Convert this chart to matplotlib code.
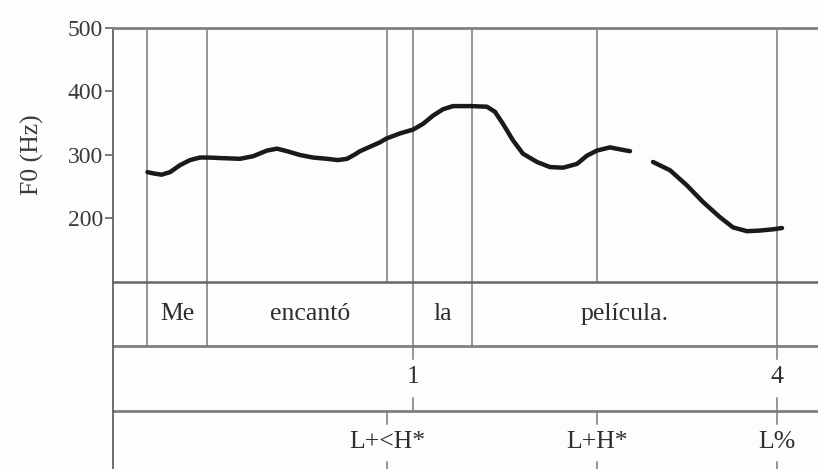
import numpy as np
import matplotlib
matplotlib.use("Agg")
import matplotlib.pyplot as plt

plt.rcParams['font.family'] = ['Liberation Serif', 'DejaVu Serif']

# F0 contour (s, Hz); NaN marks the unvoiced gap
f0_time = [0.069, 0.081, 0.097, 0.114, 0.134, 0.154, 0.174, 0.190, 0.220, 0.254,
           0.280, 0.308, 0.328, 0.348, 0.374, 0.400, 0.428, 0.450, 0.468, 0.484,
           0.494, 0.514, 0.534, 0.547, 0.574, 0.600, 0.620, 0.640, 0.660, 0.680,
           0.718, 0.748, 0.764, 0.780, 0.800, 0.820, 0.848, 0.874, 0.900, 0.928,
           0.948, 0.968, 0.994, 1.020, 1.034,
           1.057,
           1.080, 1.114, 1.148, 1.180, 1.214, 1.240, 1.268, 1.294, 1.320, 1.338]
f0_hz = [273, 271, 269, 273, 284, 292, 296, 296, 295, 294,
         298, 307, 310, 306, 300, 296, 294, 292, 294, 301,
         306, 313, 320, 326, 334, 340, 349, 362, 372, 377,
         377, 376, 368, 349, 323, 302, 289, 281, 280, 286,
         299, 307, 312, 308, 306,
         np.nan,
         289, 276, 252, 226, 202, 186, 180, 181, 183, 185]

# word tier
word_bounds = [0.068, 0.188, 0.600, 0.718, 1.328]
words = ['Me', 'encantó', 'la', 'película.']

# break-index tier
break_times = [0.600, 1.328]
break_labels = ['1', '4']

# tone tier
tone_times = [0.548, 0.968, 1.328]
tone_labels = ['L+<H*', 'L+H*', 'L%']

yticks = [200, 300, 400, 500]

W, H = 818, 469
fig = plt.figure(figsize=(W / 100, H / 100), dpi=100)
fig.patch.set_facecolor('#fdfdfd')

px = 0.002  # seconds per pixel
x0 = 113
x1 = 826
t_max = (x1 - x0) * px

grid_c = '#7a7a7a'
text_c = '#2e2e2e'
fs = 18.5

# annotation tiers: y from 0 (bottom) to 3 (top), one unit per tier
tx = fig.add_axes([x0 / W, (H - 475) / H, (x1 - x0) / W, (475 - 282) / H])
tx.patch.set_visible(False)
tx.set_xlim(0, t_max)
tx.set_ylim(0, 3)
tx.set_xticks([])
tx.set_yticks([])
for s in ['top', 'right', 'bottom']:
    tx.spines[s].set_visible(False)
tx.spines['left'].set_color('#555555')
tx.spines['left'].set_linewidth(1.2)
for yb in [1, 2]:
    tx.axhline(yb, color='#808080', lw=2)

# word tier (interval)
for t in word_bounds:
    tx.plot([t, t], [2, 3], color=grid_c, lw=1.1)
for a, b, w in zip(word_bounds[:-1], word_bounds[1:], words):
    tx.text((a + b) / 2, 2.5, w, ha='center', va='center', fontsize=fs, color=text_c)

# point tiers with short ticks at top and bottom
tick = 0.2
for times, labels, base in [(break_times, break_labels, 1), (tone_times, tone_labels, 0)]:
    for t, lab in zip(times, labels):
        tx.plot([t, t], [base + 1 - tick, base + 1], color=grid_c, lw=1.1)
        tx.plot([t, t], [base, base + tick], color=grid_c, lw=1.1)
        tx.text(t, base + 0.52, lab, ha='center', va='center', fontsize=fs, color=text_c)

# pitch panel
ax = fig.add_axes([x0 / W, (H - 282) / H, (x1 - x0) / W, (282 - 28) / H])
ax.patch.set_visible(False)
ax.set_xlim(0, t_max)
ax.set_ylim(100, 500)
all_bounds = sorted(set(word_bounds + tone_times + break_times))
for t in all_bounds:
    ax.axvline(t, color=grid_c, lw=1.1, zorder=1)
ax.plot(f0_time, f0_hz, color='#1a1a1a', lw=3.2, solid_capstyle='round',
        solid_joinstyle='round', zorder=3)
ax.set_yticks(yticks)
ax.set_yticklabels([str(v) for v in yticks], fontsize=17, color='#3a3a3a')
ax.set_xticks([])
ax.tick_params(axis='y', direction='out', length=6, width=1.1, color='#555555', pad=1)
ax.set_ylabel('F0 (Hz)', fontsize=fs, color='#3a3a3a', labelpad=17)
ax.spines['top'].set_color('#808080')
ax.spines['top'].set_linewidth(2)
ax.spines['bottom'].set_color('#666666')
ax.spines['bottom'].set_linewidth(1.8)
ax.spines['left'].set_color('#555555')
ax.spines['left'].set_linewidth(1.2)
ax.spines['right'].set_visible(False)

fig.savefig('out.png', dpi=100, facecolor=fig.get_facecolor())
